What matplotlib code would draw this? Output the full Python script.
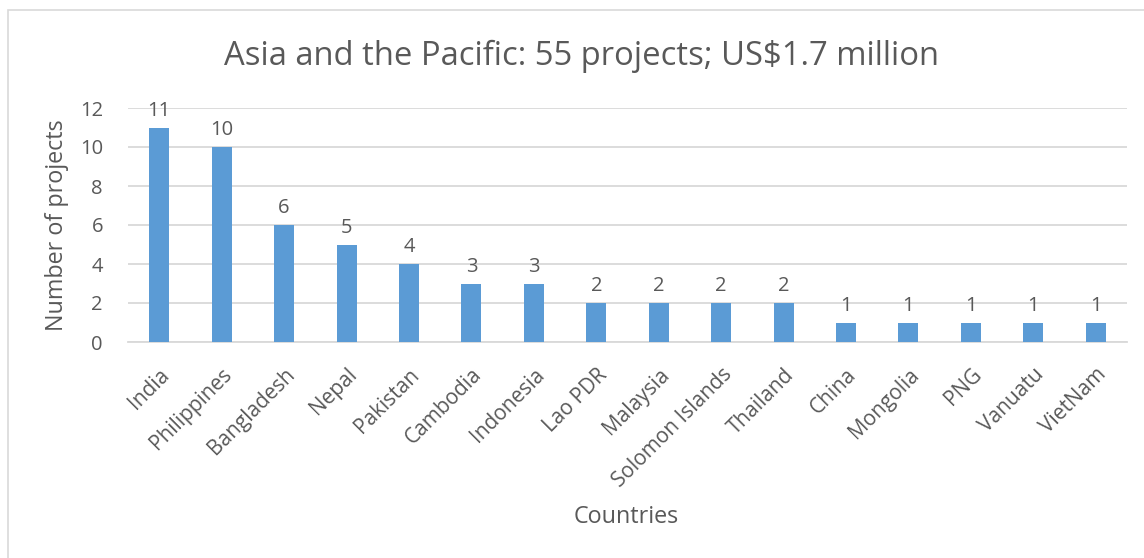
import numpy as np
import matplotlib.pyplot as plt

# data
countries = ['India', 'Philippines', 'Bangladesh', 'Nepal', 'Pakistan', 'Cambodia',
             'Indonesia', 'Lao PDR', 'Malaysia', 'Solomon Islands', 'Thailand',
             'China', 'Mongolia', 'PNG', 'Vanuatu', 'VietNam']
projects = [11, 10, 6, 5, 4, 3, 3, 2, 2, 2, 2, 1, 1, 1, 1, 1]

txt = '#595959'
plt.rcParams['font.family'] = ['Open Sans', 'DejaVu Sans']

fig = plt.figure(figsize=(11.44, 5.58), dpi=100)
# outer chart frame
fig.patches.append(plt.Rectangle((8/1144, -0.01), 1.2, (558-10)/558 + 0.01,
                                 transform=fig.transFigure, fill=False,
                                 edgecolor='#D9D9D9', linewidth=1.2))

ax = fig.add_axes([128/1144, 1-342/558, (1127-128)/1144, (342-108)/558])
x = np.arange(len(countries))
bars = ax.bar(x, projects, width=0.32, color='#5B9BD5', zorder=3)
for xi, v in zip(x, projects):
    ax.text(xi, v + 0.35, str(v), ha='center', va='bottom', fontsize=14.5, color=txt)

ax.set_xlim(-0.5, len(countries) - 0.5)
ax.set_ylim(0, 12)
ax.set_yticks(range(0, 13, 2))
ax.yaxis.grid(True, color='#D9D9D9', linewidth=1.3, zorder=0)
for s in ['top', 'right', 'left']:
    ax.spines[s].set_visible(False)
ax.spines['bottom'].set_color('#D9D9D9')
ax.spines['bottom'].set_linewidth(1.3)
ax.tick_params(axis='both', length=0, colors=txt, labelsize=14.5)
ax.tick_params(axis='y', pad=18)
ax.set_xticks(x)
ax.set_xticklabels(countries, rotation=45, ha='right', rotation_mode='anchor', fontsize=15)
ax.tick_params(axis='x', pad=16)

ax.set_ylabel('Number of projects', fontsize=16.8, color=txt, labelpad=8)
fig.text(626/1144, 1-517/558, 'Countries', ha='center', va='center', fontsize=16.8, color=txt)
fig.text(582/1144, 1-56/558, 'Asia and the Pacific: 55 projects; US$1.7 million',
         ha='center', va='center', fontsize=23.6, color=txt)

plt.savefig('out.png', dpi=100)
